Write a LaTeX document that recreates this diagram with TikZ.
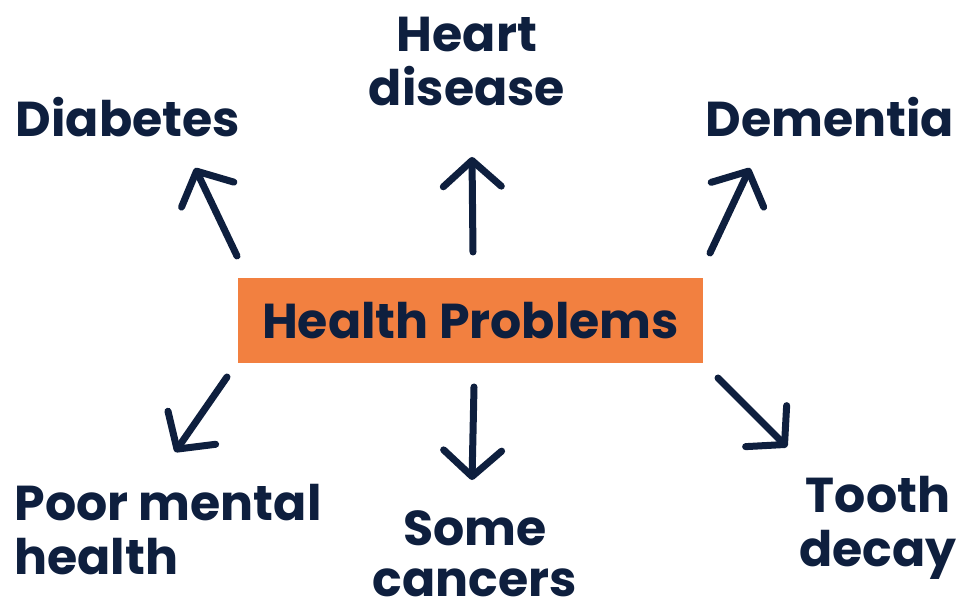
\documentclass[tikz,border=0pt]{standalone}
\usepackage{fontspec}
\setmainfont{Poppins}
\usetikzlibrary{arrows.meta}
\definecolor{navy}{HTML}{0E1F3E}
\definecolor{hporange}{HTML}{F28040}
\tikzset{
	label text/.style={text=navy,font=\fontsize{49}{54}\selectfont\bfseries,inner sep=0pt},
	problem arrow/.style={draw=navy,line width=7pt,line cap=round,
		-{Straight Barb[length=26pt,width=58pt,line width=7pt,round]}}
}
\begin{document}
\begin{tikzpicture}[x=1pt,y=-1pt]
	\useasboundingbox (0,0) rectangle (959,609);
	\node[fill=hporange,minimum width=465pt,minimum height=85pt,label text] (hp) at (470.5,320.5) {Health Problems};
	\node[label text,align=center] (heart) at (467,62) {Heart\\disease};
	\node[label text] (diab) at (128,117) {Diabetes};
	\node[label text] (dem) at (830,117) {Dementia};
	\node[label text,align=left] (poor) at (168,530) {Poor mental\\health};
	\node[label text,align=center,font=\fontsize{49}{51}\selectfont\bfseries] (cancer) at (475,554) {Some\\cancers};
	\node[label text,align=center] (tooth) at (878,528) {Tooth\\decay};
	% arrow ends
	\coordinate (diab-t) at (237,256); \coordinate (diab-h) at (195,168);
	\coordinate (heart-t) at (473,252); \coordinate (heart-h) at (472,157);
	\coordinate (dem-t) at (710,253); \coordinate (dem-h) at (750,168);
	\coordinate (poor-t) at (227,377); \coordinate (poor-h) at (175,452);
	\coordinate (cancer-t) at (474,387); \coordinate (cancer-h) at (472,480);
	\coordinate (tooth-t) at (718,378); \coordinate (tooth-h) at (787,447);
	\path
	(diab-t) edge[problem arrow] (diab-h)
	(heart-t) edge[problem arrow] (heart-h)
	(dem-t) edge[problem arrow] (dem-h)
	(poor-t) edge[problem arrow] (poor-h)
	(cancer-t) edge[problem arrow] (cancer-h)
	(tooth-t) edge[problem arrow] (tooth-h);
\end{tikzpicture}
\end{document}
